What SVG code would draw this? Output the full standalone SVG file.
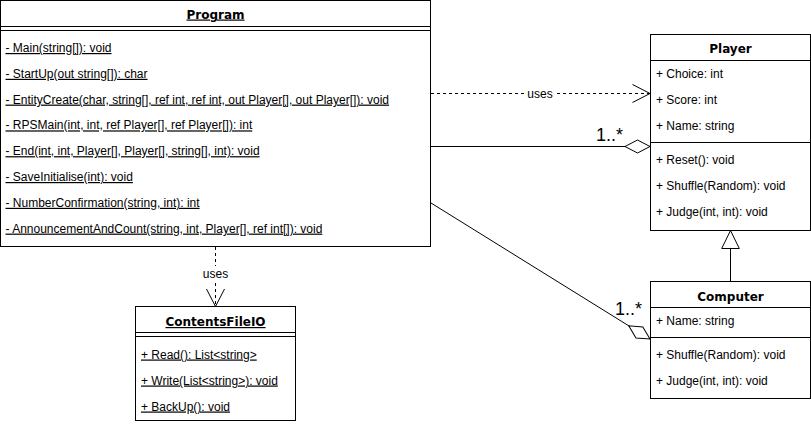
<svg xmlns="http://www.w3.org/2000/svg" width="811" height="427" viewBox="0 0 811 427">
<style>
.box{fill:#fff;stroke:#000;stroke-width:1}
.ln{stroke:#000;stroke-width:1;fill:none}
.title{font-family:Verdana,"DejaVu Sans",sans-serif;font-size:12px;font-weight:bold;text-anchor:middle;fill:#000}
.m{font-family:"Liberation Sans",Arial,sans-serif;font-size:12px;fill:#000}
.u{text-decoration:underline}
.lbl{font-family:"Liberation Sans",Arial,sans-serif;font-size:12px;fill:#000;text-anchor:middle}
.mult{font-family:"Liberation Sans",Arial,sans-serif;font-size:18px;fill:#000}
.dash{stroke-dasharray:3 3}
</style>
<defs>
<marker id="open" markerUnits="userSpaceOnUse" orient="auto" refX="0" refY="0" markerWidth="24" markerHeight="24" viewBox="-20 -12 24 24" overflow="visible">
<path d="M-17.5,-9 L0,0 L-17.5,9" fill="none" stroke="#000" stroke-width="1"/>
</marker>
<marker id="diamond" markerUnits="userSpaceOnUse" orient="auto" refX="0" refY="0" markerWidth="30" markerHeight="16" viewBox="-28 -8 30 16" overflow="visible">
<path d="M0,0 L-12.5,-6.5 L-25,0 L-12.5,6.5 Z" fill="#fff" stroke="#000" stroke-width="1"/>
</marker>
<marker id="tri" markerUnits="userSpaceOnUse" orient="auto" refX="0" refY="0" markerWidth="22" markerHeight="22" viewBox="-20 -11 22 22" overflow="visible">
<path d="M0,0 L-18,-8.8 L-18,8.8 Z" fill="#fff" stroke="#000" stroke-width="1"/>
</marker>
</defs>

<g id="connectors">
<line class="ln dash" x1="431" y1="93.5" x2="650" y2="93.5" marker-end="url(#open)"/>
<rect x="526" y="86" width="28" height="14" fill="#fff"/>
<text class="lbl" x="540" y="97.5">uses</text>

<line class="ln dash" x1="215.5" y1="247" x2="215.5" y2="306.5" marker-end="url(#open)"/>
<rect x="201" y="266" width="29" height="14" fill="#fff"/>
<text class="lbl" x="215.5" y="277.5">uses</text>

<line class="ln" x1="431" y1="146.5" x2="650" y2="146.5" marker-end="url(#diamond)"/>
<text class="mult" x="596" y="140.5">1..*</text>

<line class="ln" x1="431" y1="203" x2="650" y2="339" marker-end="url(#diamond)"/>
<text class="mult" x="615" y="314.5">1..*</text>

<line class="ln" x1="730.5" y1="281.5" x2="730.5" y2="230.5" marker-end="url(#tri)"/>
</g>

<g id="Program">
<rect class="box" x="0.5" y="0.5" width="430" height="246"/>
<line class="ln" x1="0.5" y1="26.5" x2="430.5" y2="26.5"/>
<line class="ln" x1="0.5" y1="30.5" x2="430.5" y2="30.5"/>
<text class="title u" x="215.5" y="18.5">Program</text>
<text class="m u" x="5.5" y="52">- Main(string[]): void</text>
<text class="m u" x="5.5" y="77.8">- StartUp(out string[]): char</text>
<text class="m u" x="5.5" y="103.6">- EntityCreate(char, string[], ref int, ref int, out Player[], out Player[]): void</text>
<text class="m u" x="5.5" y="129.4">- RPSMain(int, int, ref Player[], ref Player[]): int</text>
<text class="m u" x="5.5" y="155.2">- End(int, int, Player[], Player[], string[], int): void</text>
<text class="m u" x="5.5" y="181">- SaveInitialise(int): void</text>
<text class="m u" x="5.5" y="206.8">- NumberConfirmation(string, int): int</text>
<text class="m u" x="5.5" y="232.6">- AnnouncementAndCount(string, int, Player[], ref int[]): void</text>
</g>

<g id="Player">
<rect class="box" x="650.5" y="34.5" width="160" height="196"/>
<line class="ln" x1="650.5" y1="60.5" x2="810.5" y2="60.5"/>
<line class="ln" x1="650.5" y1="142.5" x2="810.5" y2="142.5"/>
<text class="title" x="730.5" y="53">Player</text>
<text class="m" x="656" y="78">+ Choice: int</text>
<text class="m" x="656" y="104">+ Score: int</text>
<text class="m" x="656" y="130">+ Name: string</text>
<text class="m" x="656" y="164">+ Reset(): void</text>
<text class="m" x="656" y="190">+ Shuffle(Random): void</text>
<text class="m" x="656" y="216">+ Judge(int, int): void</text>
</g>

<g id="Computer">
<rect class="box" x="650.5" y="281.5" width="160" height="117"/>
<line class="ln" x1="650.5" y1="307.5" x2="810.5" y2="307.5"/>
<line class="ln" x1="650.5" y1="337.5" x2="810.5" y2="337.5"/>
<text class="title" x="730.5" y="300.5">Computer</text>
<text class="m" x="656" y="325">+ Name: string</text>
<text class="m" x="656" y="359">+ Shuffle(Random): void</text>
<text class="m" x="656" y="385">+ Judge(int, int): void</text>
</g>

<g id="ContentsFileIO">
<rect class="box" x="135.5" y="306.5" width="160" height="114"/>
<line class="ln" x1="135.5" y1="332.5" x2="295.5" y2="332.5"/>
<line class="ln" x1="135.5" y1="336.5" x2="295.5" y2="336.5"/>
<text class="title u" x="215.5" y="326">ContentsFileIO</text>
<text class="m u" x="141" y="358.5">+ Read(): List&lt;string&gt;</text>
<text class="m u" x="141" y="384.5">+ Write(List&lt;string&gt;): void</text>
<text class="m u" x="141" y="410.5">+ BackUp(): void</text>
</g>
</svg>
